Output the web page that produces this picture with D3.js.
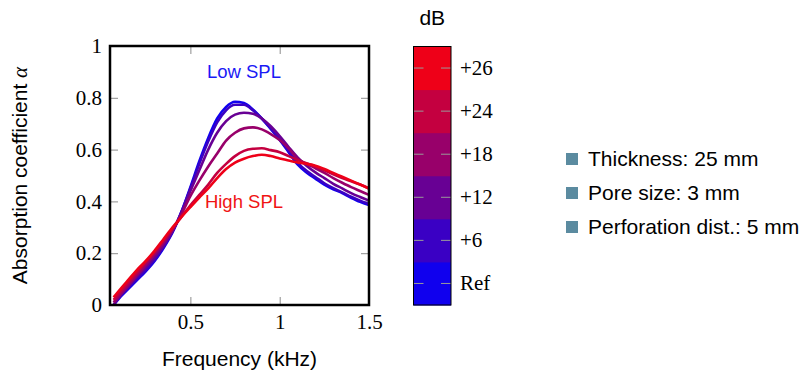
<!DOCTYPE html>
<html lang="en">
<head>
    <meta charset="UTF-8">
    <title>Absorption coefficient vs frequency</title>
    <style>
        body { margin: 0; background: #fff; }
        .sans { font-family: "Liberation Sans", Arial, sans-serif; }
        .serif { font-family: "Liberation Serif", "Times New Roman", serif; }
        .curve { fill: none; stroke-width: 2.6px; stroke-linejoin: round; }
    </style>
</head>
<body>
    <svg width="804" height="372"></svg>
    <script src="https://d3js.org/d3.v7.min.js"></script>
    <script>
        // Frequency grid (kHz)
        const freq = [0.07, 0.1, 0.15, 0.2, 0.25, 0.3, 0.35, 0.4, 0.45, 0.5,
                      0.55, 0.6, 0.65, 0.7, 0.75, 0.8, 0.85, 0.9, 0.95, 1.0,
                      1.05, 1.1, 1.15, 1.2, 1.25, 1.3, 1.35, 1.4, 1.45, 1.5];

        // Absorption coefficient per excitation level
        const alphaRef = [0.0, 0.025, 0.06, 0.095, 0.13, 0.17, 0.22, 0.28, 0.36, 0.455,
                          0.555, 0.645, 0.72, 0.765, 0.785, 0.78, 0.755, 0.72, 0.68, 0.637,
                          0.59, 0.543, 0.512, 0.488, 0.465, 0.447, 0.432, 0.414, 0.398, 0.386];
        const alpha6 = [0.0, 0.028, 0.065, 0.1, 0.135, 0.175, 0.225, 0.283, 0.36, 0.45,
                        0.545, 0.632, 0.705, 0.752, 0.773, 0.773, 0.752, 0.72, 0.682, 0.64,
                        0.595, 0.55, 0.518, 0.494, 0.47, 0.451, 0.435, 0.418, 0.403, 0.39];
        const alpha12 = [0.0, 0.03, 0.07, 0.11, 0.145, 0.185, 0.23, 0.285, 0.355, 0.44,
                         0.52, 0.6, 0.665, 0.71, 0.735, 0.742, 0.738, 0.72, 0.69, 0.652,
                         0.61, 0.57, 0.538, 0.512, 0.49, 0.468, 0.45, 0.432, 0.417, 0.403];
        const alpha18 = [0.01, 0.035, 0.075, 0.115, 0.155, 0.195, 0.24, 0.29, 0.35, 0.42,
                         0.48, 0.535, 0.585, 0.635, 0.665, 0.682, 0.686, 0.678, 0.66, 0.637,
                         0.605, 0.565, 0.545, 0.528, 0.51, 0.49, 0.472, 0.455, 0.44, 0.425];
        const alpha24 = [0.02, 0.045, 0.085, 0.125, 0.165, 0.205, 0.25, 0.295, 0.34, 0.385,
                         0.425, 0.465, 0.51, 0.545, 0.575, 0.595, 0.603, 0.605, 0.598, 0.59,
                         0.575, 0.56, 0.547, 0.535, 0.52, 0.505, 0.49, 0.478, 0.465, 0.45];
        const alpha26 = [0.03, 0.055, 0.095, 0.135, 0.17, 0.21, 0.255, 0.3, 0.34, 0.378,
                         0.415, 0.45, 0.49, 0.525, 0.55, 0.565, 0.575, 0.58, 0.575, 0.566,
                         0.558, 0.55, 0.545, 0.538, 0.525, 0.51, 0.495, 0.48, 0.465, 0.45];

        const levelLabels = ["Ref", "+6", "+12", "+18", "+24", "+26"];
        const levelColors = ["#1000ee", "#3a00c4", "#680094", "#98006a", "#c40040", "#ee0018"];
        const seriesValues = [alphaRef, alpha6, alpha12, alpha18, alpha24, alpha26];

        const xTicks = [0.5, 1, 1.5];
        const yTicks = [0, 0.2, 0.4, 0.6, 0.8, 1];

        const legendItems = ["Thickness: 25 mm", "Pore size: 3 mm", "Perforation dist.: 5 mm"];

        const svg = d3.select("svg");

        // plot box
        const box = {left: 110, right: 369, top: 46, bottom: 305};

        const x = d3.scaleLinear().domain([0.05, 1.5]).range([box.left, box.right]);
        const y = d3.scaleLinear().domain([0, 1]).range([box.bottom, box.top]);

        // axes, ticks pointing inwards on all four sides
        const styleAxis = function(g) {
            g.select(".domain").remove();
            g.selectAll(".tick line").attr("stroke", "#8c8c8c");
            g.selectAll(".tick text")
                .attr("class", "serif")
                .style("font-size", "21px")
                .attr("fill", "#000");
        };

        svg.append("g")
            .attr("transform", "translate(0," + box.bottom + ")")
            .call(d3.axisBottom(x).tickValues(xTicks).tickSize(-8).tickPadding(9)
                .tickFormat(d3.format("~g")))
            .call(styleAxis);
        svg.append("g")
            .attr("transform", "translate(0," + box.top + ")")
            .call(d3.axisTop(x).tickValues(xTicks).tickSize(-8).tickFormat(""))
            .call(styleAxis);
        svg.append("g")
            .attr("transform", "translate(" + box.left + ",0)")
            .call(d3.axisLeft(y).tickValues(yTicks).tickSize(-8).tickPadding(8)
                .tickFormat(d3.format("~g")))
            .call(styleAxis);
        svg.append("g")
            .attr("transform", "translate(" + box.right + ",0)")
            .call(d3.axisRight(y).tickValues(yTicks).tickSize(-8).tickFormat(""))
            .call(styleAxis);

        // curves
        const line = d3.line()
            .x(function(d, i) { return x(freq[i]); })
            .y(function(d) { return y(d); })
            .curve(d3.curveMonotoneX);

        svg.append("g")
            .selectAll("path")
            .data(seriesValues)
            .enter().append("path")
            .attr("class", "curve")
            .attr("stroke", function(d, i) { return levelColors[i]; })
            .attr("d", line);

        svg.append("rect")
            .attr("x", box.left).attr("y", box.top)
            .attr("width", box.right - box.left).attr("height", box.bottom - box.top)
            .attr("fill", "none").attr("stroke", "#000").attr("stroke-width", 2.5);

        // annotations
        svg.append("text").attr("class", "sans")
            .attr("x", x(0.8)).attr("y", 78)
            .attr("text-anchor", "middle").style("font-size", "18.5px")
            .attr("fill", "#1a1af5").text("Low SPL");
        svg.append("text").attr("class", "sans")
            .attr("x", x(0.8)).attr("y", 208)
            .attr("text-anchor", "middle").style("font-size", "18.5px")
            .attr("fill", "#f01414").text("High SPL");

        // axis titles
        svg.append("text").attr("class", "sans")
            .attr("x", (box.left + box.right) / 2).attr("y", 366)
            .attr("text-anchor", "middle").style("font-size", "21px")
            .text("Frequency (kHz)");
        const yTitle = svg.append("text").attr("class", "sans")
            .attr("transform", "translate(27," + ((box.top + box.bottom) / 2) + ") rotate(-90)")
            .attr("text-anchor", "middle").style("font-size", "21px");
        yTitle.append("tspan").text("Absorption coefficient ");
        yTitle.append("tspan").attr("class", "serif").style("font-style", "italic").text("α");

        // colour bar
        const bar = {left: 413.5, right: 451, top: 46.5, bottom: 305};
        const band = d3.scaleBand().domain(levelLabels).range([bar.bottom, bar.top]);

        svg.append("g")
            .selectAll("rect")
            .data(levelLabels)
            .enter().append("rect")
            .attr("x", bar.left)
            .attr("y", function(d) { return band(d); })
            .attr("width", bar.right - bar.left)
            .attr("height", band.bandwidth() + 0.5)
            .attr("fill", function(d, i) { return levelColors[i]; });

        const barTicks = svg.append("g");
        levelLabels.forEach(function(d) {
            const cy = band(d) + band.bandwidth() / 2;
            barTicks.append("line").attr("x1", bar.left).attr("x2", bar.left + 10)
                .attr("y1", cy).attr("y2", cy).attr("stroke", "#9a9a9a");
            barTicks.append("line").attr("x1", bar.right - 10).attr("x2", bar.right)
                .attr("y1", cy).attr("y2", cy).attr("stroke", "#9a9a9a");
        });

        svg.append("rect")
            .attr("x", bar.left).attr("y", bar.top)
            .attr("width", bar.right - bar.left).attr("height", bar.bottom - bar.top)
            .attr("fill", "none").attr("stroke", "#000").attr("stroke-width", 1);

        svg.append("g")
            .attr("transform", "translate(" + bar.right + ",0)")
            .call(d3.axisRight(band).tickSize(0).tickPadding(9))
            .call(function(g) {
                g.select(".domain").remove();
                g.selectAll(".tick text").attr("class", "serif")
                    .style("font-size", "21px").attr("fill", "#000");
            });

        svg.append("text").attr("class", "sans")
            .attr("x", (bar.left + bar.right) / 2).attr("y", 25)
            .attr("text-anchor", "middle").style("font-size", "21px")
            .text("dB");

        // parameter legend
        const legend = svg.selectAll(".legend")
            .data(legendItems)
            .enter().append("g")
            .attr("class", "legend")
            .attr("transform", function(d, i) { return "translate(566," + (159 + 34 * i) + ")"; });

        legend.append("rect")
            .attr("x", 0).attr("y", -6)
            .attr("width", 12).attr("height", 12)
            .attr("fill", "#5b8ba0");

        legend.append("text").attr("class", "sans")
            .attr("x", 22).attr("dy", "0.35em")
            .style("font-size", "21px")
            .text(function(d) { return d; });
    </script>
</body>
</html>
